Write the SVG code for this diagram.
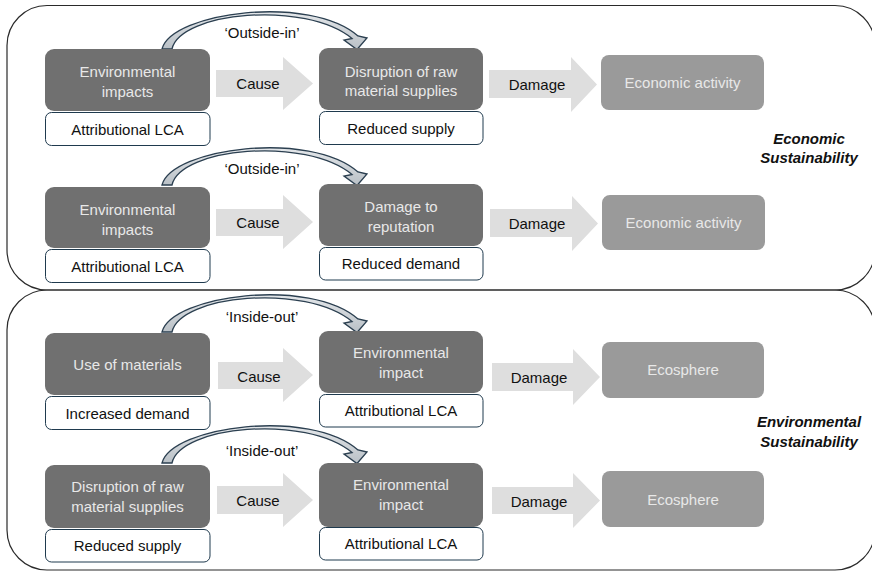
<svg xmlns="http://www.w3.org/2000/svg" xmlns:xlink="http://www.w3.org/1999/xlink" width="872" height="571" viewBox="0 0 872 571">
  <defs>
    <linearGradient id="cg" x1="0" y1="0" x2="0" y2="1">
      <stop offset="0" stop-color="#e4e7ea"/>
      <stop offset="1" stop-color="#b9c0c6"/>
    </linearGradient>
    <path id="curve" d="M162,49 C172,12 310,-6 358,36 L367,38 L357,49.5 L344,40 L352,38.5 C305,0 180,12 172,49 Z"/>
  </defs>
  <style>
    .panel { fill: none; stroke: #2a2a2a; stroke-width: 1.2; }
    .dark { fill: #707070; }
    .light { fill: #9a9a9a; }
    .sub { fill: #ffffff; stroke: #1f3a4e; stroke-width: 1; }
    .blk { fill: #dedede; }
    .carc { fill: url(#cg); stroke: #2b3f50; stroke-width: 1.3; }
    text { font-family: "Liberation Sans", Arial, sans-serif; font-size: 15px; text-anchor: middle; }
    .tl { fill: #e8e8e8; }
    .tb { fill: #111111; }
    .ti { fill: #111111; font-weight: bold; font-style: italic; }
  </style>

  <g id="panels">
    <rect class="panel" x="7" y="5.5" width="868" height="284.5" rx="40" ry="40"/>
    <rect class="panel" x="7" y="290" width="868" height="280" rx="40" ry="40"/>
  </g>

  <g id="connectors">
    <use xlink:href="#curve" class="carc"/>
    <use xlink:href="#curve" class="carc" transform="translate(0,136)"/>
    <use xlink:href="#curve" class="carc" transform="translate(0,283)"/>
    <use xlink:href="#curve" class="carc" transform="translate(0,414)"/>
    <text class="tb" x="262" y="38">‘Outside-in’</text>
    <text class="tb" x="262" y="174">‘Outside-in’</text>
    <text class="tb" x="262" y="322">‘Inside-out’</text>
    <text class="tb" x="262" y="456">‘Inside-out’</text>

    <polygon class="blk" points="216,70 283,70 283,57 313,83.5 283,110 283,97 216,97"/>
    <text class="tb" x="258" y="89">Cause</text>
    <polygon class="blk" points="489,70 571,70 571,57 597,84.5 571,112 571,98 489,98"/>
    <text class="tb" x="537" y="90">Damage</text>

    <polygon class="blk" points="216,209 283,209 283,195 313,222 283,249 283,236 216,236"/>
    <text class="tb" x="258" y="228">Cause</text>
    <polygon class="blk" points="490,209 572,209 572,196 598,223.5 572,251 572,237 490,237"/>
    <text class="tb" x="537" y="229">Damage</text>

    <polygon class="blk" points="218,362 283,362 283,348 313,375 283,402 283,389 218,389"/>
    <text class="tb" x="259" y="382">Cause</text>
    <polygon class="blk" points="492,363 573,363 573,349 600,377 573,405 573,391 492,391"/>
    <text class="tb" x="539" y="383">Damage</text>

    <polygon class="blk" points="217,486 283,486 283,473 313,500 283,527 283,514 217,514"/>
    <text class="tb" x="258" y="506">Cause</text>
    <polygon class="blk" points="492,487 573,487 573,473 600,500.5 573,528 573,514 492,514"/>
    <text class="tb" x="539" y="507">Damage</text>
  </g>

  <g id="r1-env">
    <rect class="dark" x="45" y="49" width="165" height="62" rx="9"/>
    <text class="tl" x="127.5" y="77">Environmental</text>
    <text class="tl" x="127.5" y="97">impacts</text>
  </g>
  <g id="r1-env-sub">
    <rect class="sub" x="45.5" y="112.5" width="164.5" height="33" rx="6"/>
    <text class="tb" x="127.5" y="134.5">Attributional LCA</text>
  </g>
  <g id="r1-disrupt">
    <rect class="dark" x="319" y="48" width="164" height="62" rx="9"/>
    <text class="tl" x="401" y="77">Disruption of raw</text>
    <text class="tl" x="401" y="96">material supplies</text>
  </g>
  <g id="r1-disrupt-sub">
    <rect class="sub" x="319.5" y="111.5" width="163.5" height="33" rx="6"/>
    <text class="tb" x="401" y="133.5">Reduced supply</text>
  </g>
  <g id="r1-econ">
    <rect class="light" x="601" y="55" width="163" height="55" rx="8"/>
    <text class="tl" x="682.5" y="88">Economic activity</text>
  </g>

  <g id="r2-env">
    <rect class="dark" x="45" y="187" width="165" height="61" rx="9"/>
    <text class="tl" x="127.5" y="215">Environmental</text>
    <text class="tl" x="127.5" y="235">impacts</text>
  </g>
  <g id="r2-env-sub">
    <rect class="sub" x="45.5" y="249.5" width="164.5" height="33" rx="6"/>
    <text class="tb" x="127.5" y="271.5">Attributional LCA</text>
  </g>
  <g id="r2-reputation">
    <rect class="dark" x="319" y="184" width="164" height="62" rx="9"/>
    <text class="tl" x="401" y="212">Damage to</text>
    <text class="tl" x="401" y="232">reputation</text>
  </g>
  <g id="r2-reputation-sub">
    <rect class="sub" x="319.5" y="247.5" width="163.5" height="32.5" rx="6"/>
    <text class="tb" x="401" y="269">Reduced demand</text>
  </g>
  <g id="r2-econ">
    <rect class="light" x="602" y="195" width="163" height="55" rx="8"/>
    <text class="tl" x="683.5" y="228">Economic activity</text>
  </g>

  <g id="r3-use">
    <rect class="dark" x="45" y="333" width="165" height="62" rx="9"/>
    <text class="tl" x="127.5" y="370">Use of materials</text>
  </g>
  <g id="r3-use-sub">
    <rect class="sub" x="45.5" y="396.5" width="164.5" height="33" rx="6"/>
    <text class="tb" x="127.5" y="418.5">Increased demand</text>
  </g>
  <g id="r3-envimp">
    <rect class="dark" x="319" y="331" width="164" height="62" rx="9"/>
    <text class="tl" x="401" y="358">Environmental</text>
    <text class="tl" x="401" y="378">impact</text>
  </g>
  <g id="r3-envimp-sub">
    <rect class="sub" x="319.5" y="394.5" width="163.5" height="32.5" rx="6"/>
    <text class="tb" x="401" y="416">Attributional LCA</text>
  </g>
  <g id="r3-eco">
    <rect class="light" x="602" y="342" width="162" height="56" rx="8"/>
    <text class="tl" x="683" y="375">Ecosphere</text>
  </g>

  <g id="r4-disrupt">
    <rect class="dark" x="45" y="465" width="165" height="63" rx="9"/>
    <text class="tl" x="127.5" y="492">Disruption of raw</text>
    <text class="tl" x="127.5" y="512">material supplies</text>
  </g>
  <g id="r4-disrupt-sub">
    <rect class="sub" x="45.5" y="529.5" width="164.5" height="32.5" rx="6"/>
    <text class="tb" x="127.5" y="551">Reduced supply</text>
  </g>
  <g id="r4-envimp">
    <rect class="dark" x="319" y="463" width="164" height="64" rx="9"/>
    <text class="tl" x="401" y="490">Environmental</text>
    <text class="tl" x="401" y="510">impact</text>
  </g>
  <g id="r4-envimp-sub">
    <rect class="sub" x="319.5" y="527.5" width="163.5" height="32.5" rx="6"/>
    <text class="tb" x="401" y="549">Attributional LCA</text>
  </g>
  <g id="r4-eco">
    <rect class="light" x="602" y="471" width="162" height="56" rx="8"/>
    <text class="tl" x="683" y="505">Ecosphere</text>
  </g>

  <g id="label-economic">
    <text class="ti" x="809" y="144">Economic</text>
    <text class="ti" x="809" y="163">Sustainability</text>
  </g>
  <g id="label-environmental">
    <text class="ti" x="809" y="427">Environmental</text>
    <text class="ti" x="809" y="447">Sustainability</text>
  </g>
</svg>
